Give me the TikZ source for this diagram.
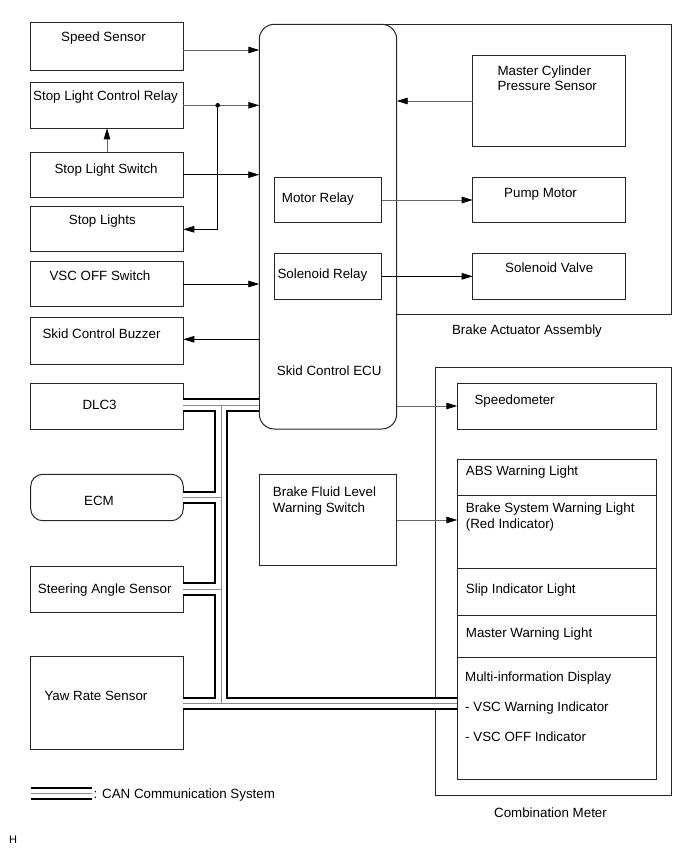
\documentclass[tikz,border=0pt]{standalone}
\usepackage{fontspec}
\setmainfont{Liberation Sans}
\usetikzlibrary{arrows.meta}
\newcommand\lab{\fontsize{13.35}{15.5}\selectfont}
\begin{document}
\begin{tikzpicture}[x=1pt,y=-1pt,
  box/.style={draw=black!85, line width=1pt, inner sep=0pt, outer sep=0pt, anchor=north west, minimum width=152.6pt, minimum height=46pt},
  frame/.style={draw=black!85, line width=1pt},
  txt/.style={inner sep=0pt, anchor=base west, font=\lab, align=left},
  ctxt/.style={inner sep=0pt, anchor=base, font=\lab},
  tip/.style={-{Triangle[length=11pt,width=6.5pt,color=black]}},
  cg/.style={draw=black!60, line width=0.9pt, tip},
  cb/.style={draw=black, line width=0.8pt, tip},
  canb/.style={draw=black, line width=13.2pt},
  canw/.style={draw=white, line width=9.6pt},
  cang/.style={draw=black!45, line width=1pt}
]
\useasboundingbox (0,0) rectangle (690,855);

% left column boxes
\node[box, minimum height=48pt] (ss) at (30.7,22.7) {};
\node[box, minimum height=45.6pt] (sr) at (30.7,82.7) {};
\node[box, minimum height=45.4pt] (sw) at (30.7,152.3) {};
\node[box, minimum height=45.7pt] (sl) at (30.7,206) {};
\node[box, minimum height=45.7pt] (vsc) at (30.7,261) {};
\node[box, minimum height=46.3pt] (bz) at (30.7,317.7) {};
\node[box, minimum height=45.7pt] (dlc) at (30.7,383.3) {};
\node[box, minimum height=46.4pt, rounded corners=12pt] (ecm) at (30.7,474.3) {};
\node[box, minimum height=46.3pt] (sas) at (30.7,566) {};
\node[box, minimum height=92.3pt] (yaw) at (30.7,656.7) {};

% ECU and actuator
\node[box, minimum width=137.4pt, minimum height=404.7pt, rounded corners=15pt] (ecu) at (259.3,24.3) {};
\draw[frame] (ecu.east |- 0,314.3) -- (671,314.3) -- (671,24.3) -- (385,24.3);
\node[box, minimum width=107.4pt, minimum height=45.7pt] (mr) at (274.3,177) {};
\node[box, minimum width=107.4pt, minimum height=45.7pt] (solr) at (274.3,253.3) {};
\node[box, minimum width=153pt, minimum height=91.4pt] (mcps) at (472.7,55.3) {};
\node[box, minimum width=153pt, minimum height=45.7pt] (pm) at (472.7,177) {};
\node[box, minimum width=153pt, minimum height=45.7pt] (sv) at (472.7,253.3) {};
\node[box, minimum width=137.4pt, minimum height=91.4pt] (bfl) at (259.3,474.3) {};

% combination meter
\node[box, minimum width=236pt, minimum height=427.3pt] (cm) at (435,367.7) {};
\node[box, minimum width=199pt, minimum height=45.7pt] (spd) at (457.3,383.3) {};
\node[box, minimum width=199pt, minimum height=36.4pt] (abs) at (457.3,459.3) {};
\node[box, minimum width=199pt, minimum height=72.6pt] (bsw) at (457.3,495.7) {};
\node[box, minimum width=199pt, minimum height=46.7pt] (slip) at (457.3,568.3) {};
\node[box, minimum width=199pt, minimum height=42.3pt] (mwl) at (457.3,615) {};
\node[box, minimum width=199pt, minimum height=122pt] (mid) at (457.3,657.3) {};

% texts
\node[txt] (tss) at (61,41.5) {Speed Sensor};
\node[txt] (tsr) at (33,100.5) {Stop Light Control Relay};
\node[txt] (tsw) at (54.3,173.8) {Stop Light Switch};
\node[txt] (tsl) at (68.7,224.1) {Stop Lights};
\node[txt] (tvsc) at (49.3,280.5) {VSC OFF Switch};
\node[txt] (tbz) at (42.3,338.1) {Skid Control Buzzer};
\node[txt] (tdlc) at (82.3,409.1) {DLC3};
\node[txt] (tecm) at (84,505.5) {ECM};
\node[txt] (tsas) at (37.7,593.1) {Steering Angle Sensor};
\node[txt] (tyaw) at (44.3,700.5) {Yaw Rate Sensor};
\node[txt] (tecu) at (276.7,375.5) {Skid Control ECU};
\node[txt] (tmr) at (281.7,202.5) {Motor Relay};
\node[txt] (tsolr) at (277.3,278.8) {Solenoid Relay};
\node[txt] (tmcps) at (497.3,90.8) {Master Cylinder\\Pressure Sensor};
\node[txt] (tpm) at (504,197.5) {Pump Motor};
\node[txt] (tsv) at (505,272.5) {Solenoid Valve};
\node[ctxt] (tbaa) at (527,334.8) {Brake Actuator Assembly};
\node[txt] (tspd) at (474.3,404.8) {Speedometer};
\node[txt] (tabs) at (465.7,475.8) {ABS Warning Light};
\node[txt] (tbsw) at (465.7,528.1) {Brake System Warning Light\\(Red Indicator)};
\node[txt] (tslip) at (465.7,593.1) {Slip Indicator Light};
\node[txt] (tmwl) at (465.7,637.1) {Master Warning Light};
\node[txt] (tmid) at (465,681.5) {Multi-information Display};
\node[txt] (tvw) at (465,711.5) {- VSC Warning Indicator};
\node[txt] (tvo) at (465,741.5) {- VSC OFF Indicator};
\node[txt] (tbfl) at (272.7,512.1) {Brake Fluid Level\\Warning Switch};
\node[ctxt] (tcm) at (550.5,817.1) {Combination Meter};
\node[inner sep=0pt, anchor=base west, font=\fontsize{11}{12}\selectfont] (th) at (9,843) {H};

% connectors
\coordinate (dot) at (217.7,105.3);
\draw[cg] (ss.east |- 0,50) -- (ecu.west |- 0,50);
\draw[cg] (sr.east |- dot) -- (ecu.west |- dot);
\draw[cb] (dot) |- (sl.east |- 0,229.3);
\fill (dot) circle (2.3);
\draw[cg] (sw.north) -- (sr.south);
\draw[cb] (sw.east |- 0,174.7) -- (ecu.west |- 0,174.7);
\draw[cb] (vsc.east |- 0,284) -- (ecu.west |- 0,284);
\draw[cb] (ecu.west |- 0,339.3) -- (bz.east |- 0,339.3);
\draw[cg] (mcps.west |- 0,101) -- (ecu.east |- 0,101);
\draw[cg] (mr.east |- 0,200) -- (pm.west |- 0,200);
\draw[cb] (solr.east |- 0,276.3) -- (sv.west |- 0,276.3);
\draw[cg] (ecu.east |- 0,406) -- (spd.west |- 0,406);
\draw[cg] (bfl.east |- 0,520) -- (bsw.west |- 0,520);

% CAN bus
\coordinate (j1) at (221,405);
\coordinate (j2) at (221,497.5);
\coordinate (j3) at (221,589);
\coordinate (j4) at (221,703.3);
\foreach \s in {canb,canw,cang}
  \draw[\s] (dlc.east |- j1) -- (ecu.west |- j1)
            (j1) -- (j4)
            (ecm.east |- j2) -- (j2)
            (sas.east |- j3) -- (j3)
            (yaw.east |- j4) -- (mid.west |- j4);

% legend
\coordinate (la) at (30.7,793.6);
\coordinate (lb) at (91.7,793.6);
\foreach \s in {canb,canw,cang}
  \draw[\s] (la) -- (lb);
\node[txt] (tleg) at (93.3,798.1) {: CAN Communication System};
\end{tikzpicture}
\end{document}
